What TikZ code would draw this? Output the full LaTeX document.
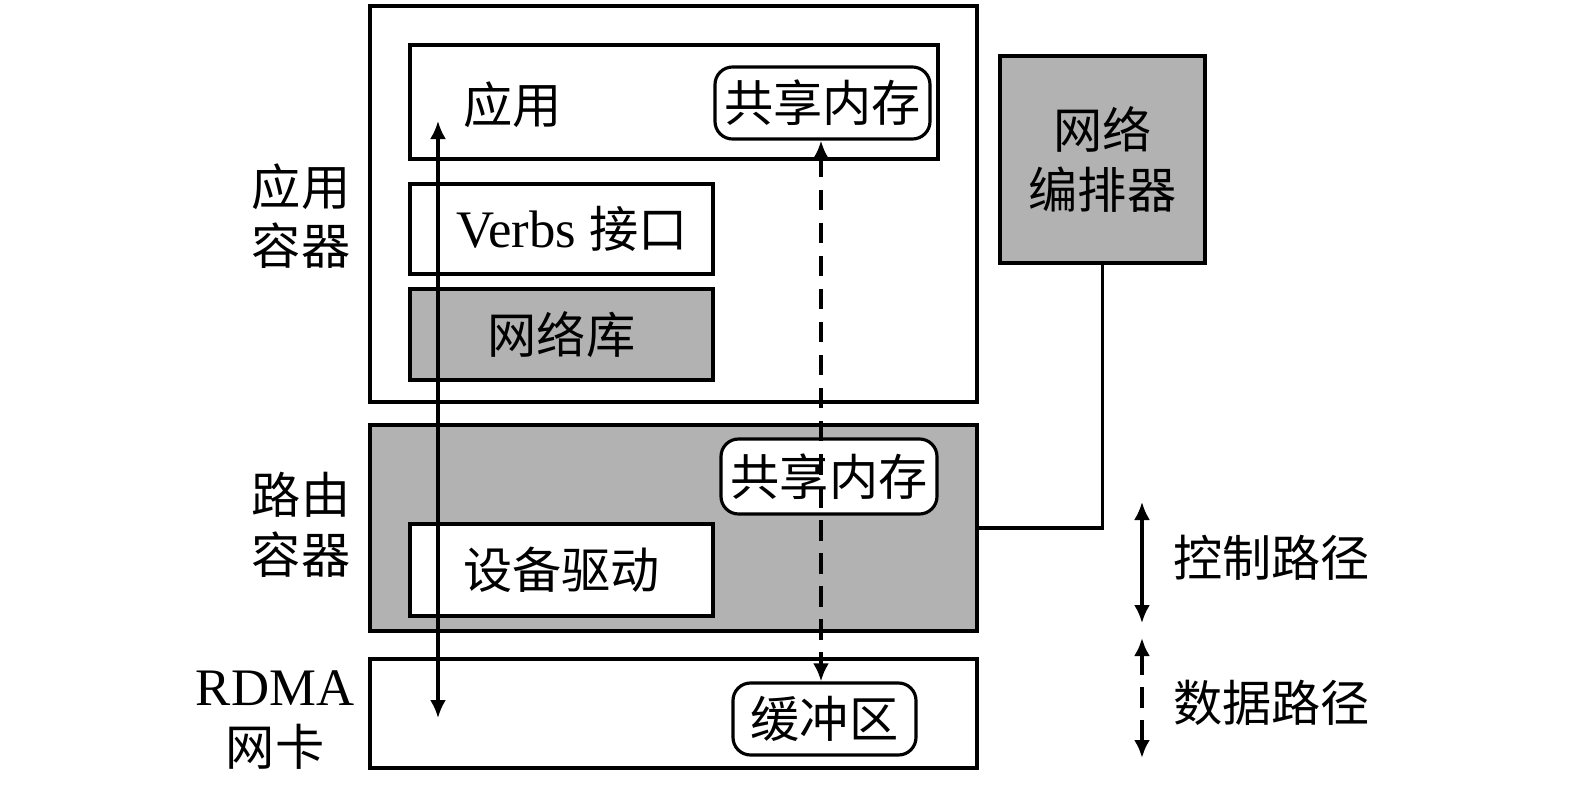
\documentclass[tikz,border=0pt]{standalone}
\usepackage{fontspec}
\setmainfont{Liberation Serif}
\newfontfamily\cjk{Noto Sans CJK SC}
\usetikzlibrary{arrows.meta}
\definecolor{boxgray}{RGB}{178,178,178}

\begin{document}
\begin{tikzpicture}[line width=0.9pt, font=\fontsize{14}{17}\selectfont\cjk,
        box/.style={draw, rectangle, inner sep=0pt},
        grbox/.style={box, fill=boxgray},
        mem/.style={draw, fill=white, rounded corners=5pt, inner sep=0pt},
        lat/.style={font=\fontsize{15}{17}\selectfont\rmfamily},
        dtip/.style={{Latex[length=1.8mm, width=1.6mm]}-{Latex[length=1.8mm, width=1.6mm]}},
        dashline/.style={line width=1.1pt, dash pattern=on 5.8pt off 3.6pt}]
        \useasboundingbox (0, 0) rectangle (15.75, -7.88);

        \node[box, minimum width=6.07cm, minimum height=3.96cm] (appc) at (6.735, -2.04) {};
        \node[box, minimum width=5.28cm, minimum height=1.14cm] (app) at (6.74, -1.02) {};
        \node[anchor=west] (applabel) at (4.50, -1.05) {应用};
        \node[mem, minimum width=2.15cm, minimum height=0.72cm] (shm1) at (8.225, -1.03) {共享内存};
        \node[box, minimum width=3.03cm, minimum height=0.90cm] (verbs) at (5.615, -2.29) {};
        \node[lat] (verbslabel) at (5.72, -2.29) {Verbs {\cjk\fontsize{14}{17}\selectfont 接口}};
        \node[grbox, minimum width=3.03cm, minimum height=0.91cm] (netlib) at (5.615, -3.345) {网络库};

        \node[grbox, minimum width=2.05cm, minimum height=2.07cm, align=center] (orch) at (11.025, -1.595) {网络\\编排器};

        \node[grbox, minimum width=6.07cm, minimum height=2.06cm] (route) at (6.735, -5.28) {};
        \node[mem, minimum width=2.16cm, minimum height=0.75cm] (shm2) at (8.29, -4.765) {共享内存};
        \node[box, fill=white, minimum width=3.03cm, minimum height=0.92cm] (drv) at (5.615, -5.70) {设备驱动};

        \node[box, minimum width=6.07cm, minimum height=1.09cm] (nic) at (6.735, -7.135) {};
        \node[mem, minimum width=1.83cm, minimum height=0.72cm] (buf) at (8.245, -7.19) {缓冲区};

        \node[align=center] (lapp) at (3.01, -2.16) {应用\\容器};
        \node[align=center] (lroute) at (3.01, -5.25) {路由\\容器};
        \node[align=center] (lnic) at (2.75, -7.20) {{\fontsize{15}{17}\selectfont\rmfamily RDMA}\\网卡};

        \draw (orch.south) |- (route.east);

        \coordinate (ctop) at (4.38, -1.21);
        \coordinate (cbot) at (4.38, -7.18);
        \draw[dtip] (ctop) -- (cbot);
        \draw[dtip, dashline] (shm1.south -| 8.21, 0) -- (buf.north -| 8.21, 0);

        % legend
        \coordinate (l1) at (11.42, -5.02);
        \coordinate (l2) at (11.42, -6.23);
        \coordinate (l3) at (11.42, -6.38);
        \coordinate (l4) at (11.42, -7.58);
        \draw[dtip] (l1) -- (l2);
        \draw[dtip, dashline] (l3) -- (l4);
        \node[anchor=west] (lctl) at (11.60, -5.58) {控制路径};
        \node[anchor=west] (ldata) at (11.60, -7.03) {数据路径};
\end{tikzpicture}
\end{document}
